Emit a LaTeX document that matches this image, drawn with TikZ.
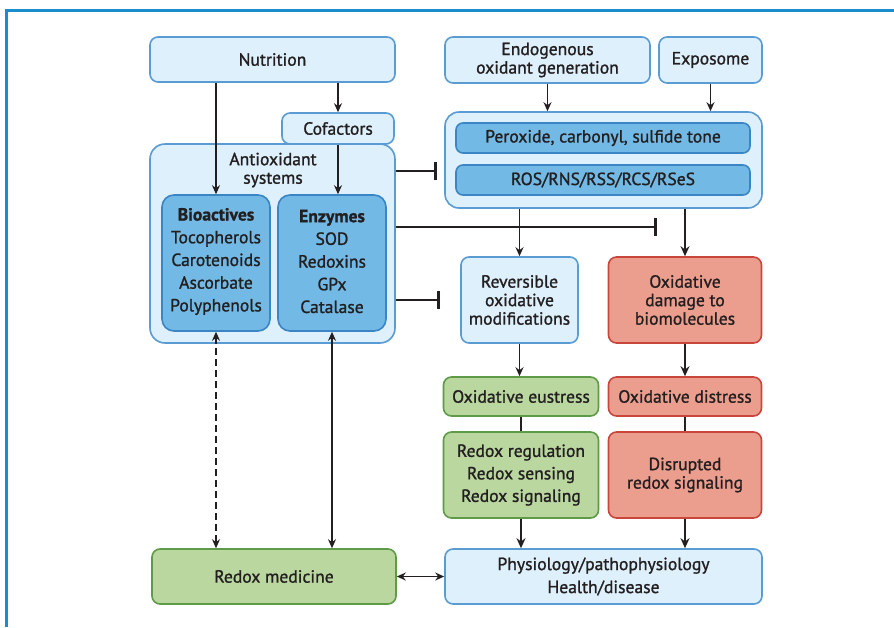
\documentclass[tikz,border=0pt]{standalone}
\usepackage{fontspec}
\setmainfont{PT Sans}[FakeBold=1.2, BoldFeatures={FakeBold=1.2}]
\usetikzlibrary{arrows.meta}
\definecolor{lbfill}{HTML}{DDF0FB}
\definecolor{lbdraw}{HTML}{5A9BD3}
\definecolor{mbfill}{HTML}{72BAE5}
\definecolor{mbdraw}{HTML}{3A86C4}
\definecolor{gfill}{HTML}{B9D79F}
\definecolor{gdraw}{HTML}{5E9A48}
\definecolor{rfill}{HTML}{EC9E8E}
\definecolor{rdraw}{HTML}{C9463D}
\definecolor{framec}{HTML}{1C8DCB}
\definecolor{txt}{HTML}{231F20}
\begin{document}
\begin{tikzpicture}[x=1pt,y=-1pt,
  every node/.style={text=txt, font=\fontsize{17.6}{18.5}\selectfont, align=center, inner sep=0pt},
  boxbase/.style={rounded corners=8pt, line width=1.6pt},
  lbox/.style={boxbase, fill=lbfill, draw=lbdraw},
  mbox/.style={boxbase, fill=mbfill, draw=mbdraw},
  gbox/.style={boxbase, fill=gfill, draw=gdraw},
  rbox/.style={boxbase, fill=rfill, draw=rdraw},
  arr/.style={draw=txt, line width=1.4pt, -{Stealth[length=9pt,width=8pt]}},
  arrb/.style={draw=txt, line width=2.4pt, -{Stealth[length=10pt,width=9pt]}},
  darr/.style={draw=txt, line width=1.4pt, {Stealth[length=9pt,width=8pt]}-{Stealth[length=9pt,width=8pt]}},
  plain/.style={draw=txt, line width=2.4pt},
  inhib/.style={draw=txt, line width=2.6pt, -{Bar[width=18pt]}},
  frameline/.style={draw=framec, line width=2.6pt}
]
\useasboundingbox (0,0) rectangle (894,627);
\draw[frameline] (6.5,627) -- (6.5,10.5) -- (894,10.5);

% left column
\node[lbox, minimum width=245pt, minimum height=45pt] (nut) at (272.5,59.5) {Nutrition};
\node[lbox, rounded corners=15pt, minimum width=245pt, minimum height=199pt] (anti) at (272.5,243.5) {};
\node (antilbl) at (273,170) {Antioxidant\\systems};
\node[lbox, minimum width=112pt, minimum height=31pt] (cof) at (338,128.5) {Cofactors};
\node[mbox, rounded corners=12pt, minimum width=108pt, minimum height=136pt] (bio) at (216,263) {};
\node[mbox, rounded corners=12pt, minimum width=108pt, minimum height=136pt] (enz) at (332,263) {};
\node[font=\fontsize{17.6}{22.7}\selectfont] (biotxt) at (216,261.5) {\textbf{Bioactives}\\Tocopherols\\Carotenoids\\Ascorbate\\Polyphenols};
\node[font=\fontsize{17.6}{22.7}\selectfont] (enztxt) at (332,261.5) {\textbf{Enzymes}\\SOD\\Redoxins\\GPx\\Catalase};
\node[gbox, minimum width=244pt, minimum height=55pt] (med) at (274,576.5) {Redox medicine};

% right column
\node[lbox, minimum width=205pt, minimum height=46pt] (endo) at (547.5,60) {Endogenous\\oxidant generation};
\node[lbox, minimum width=103pt, minimum height=46pt] (expo) at (710.5,60) {Exposome};
\node[lbox, rounded corners=14pt, minimum width=317pt, minimum height=96pt] (rb) at (603.5,160) {};
\node[mbox, rounded corners=7pt, minimum width=294pt, minimum height=30pt] (perox) at (603,138) {Peroxide, carbonyl, sulfide tone};
\node[mbox, rounded corners=7pt, minimum width=294pt, minimum height=30pt] (ros) at (603,180) {ROS/RNS/RSS/RCS/RSeS};
\node[lbox, minimum width=117pt, minimum height=86pt] (rev) at (519.5,300) {Reversible\\oxidative\\modifications};
\node[rbox, minimum width=153pt, minimum height=86pt] (dam) at (685,300) {Oxidative\\damage to\\biomolecules};
\node[gbox, minimum width=155pt, minimum height=39pt] (eus) at (521,396.5) {Oxidative eustress};
\node[rbox, minimum width=153pt, minimum height=39pt] (dis) at (685,396.5) {Oxidative distress};
\node[gbox, minimum width=155pt, minimum height=86pt, font=\fontsize{17.6}{22.5}\selectfont] (reg) at (521,475) {Redox regulation\\Redox sensing\\Redox signaling};
\node[rbox, minimum width=153pt, minimum height=86pt] (dsr) at (685,475) {Disrupted\\redox signaling};
\node[lbox, minimum width=317pt, minimum height=55pt, font=\fontsize{17.6}{23}\selectfont] (phys) at (603.5,576.5) {Physiology/pathophysiology\\Health/disease};

% connectors
\draw[arr] (nut.south -| bio.north) -- (bio.north);
\draw[arr] (nut.south -| cof.north) -- (cof.north);
\draw[arr] (cof.south) -- (cof.south |- enz.north);
\draw[arr] (endo.south) -- (endo.south |- rb.north);
\draw[arr] (expo.south) -- (expo.south |- rb.north);

\coordinate (i1) at (437,171);
\coordinate (i2) at (657,227);
\coordinate (i3) at (440,300);
\draw[inhib] (anti.east |- i1) -- (i1);
\draw[inhib] (anti.east |- i2) -- (i2);
\draw[inhib] (anti.east |- i3) -- (i3);

\draw[arr, line width=1.8pt] (rb.south -| rev.north) -- (rev.north);
\draw[arrb] (rb.south -| dam.north) -- (dam.north);
\draw[arr, line width=1.8pt] (rev.south) -- (rev.south |- eus.north);
\draw[arrb] (dam.south) -- (dis.north);
\draw[plain] (eus.south) -- (reg.north);
\draw[plain] (dis.south) -- (dsr.north);
\draw[arrb] (reg.south) -- (reg.south |- phys.north);
\draw[arrb] (dsr.south) -- (dsr.south |- phys.north);

\draw[darr] (med.east) -- (phys.west);
\draw[darr, dashed, dash pattern=on 7pt off 4pt] (bio.south) -- (bio.south |- med.north);
\draw[darr] (enz.south) -- (enz.south |- med.north);
\end{tikzpicture}
\end{document}
